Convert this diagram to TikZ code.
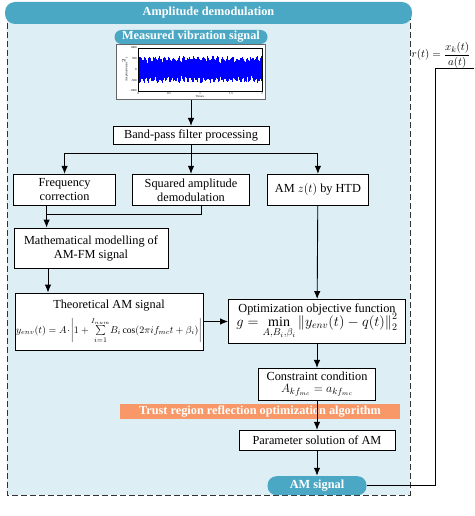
\documentclass[tikz,border=0pt]{standalone}
\usepackage{amsmath}
\usepackage{fontspec}
\setmainfont{Liberation Serif}
\usetikzlibrary{arrows.meta,calc,positioning}
\definecolor{tealhead}{RGB}{75,168,196}
\definecolor{panelbg}{RGB}{221,238,245}
\definecolor{trustbar}{RGB}{248,152,104}

\begin{document}
\begin{tikzpicture}[x=1pt,y=-1pt,>={Latex[length=8pt,width=6.5pt]},line width=0.9pt]
	\tikzset{box/.style={draw, fill=white, shape=rectangle, align=center, inner sep=1pt, font=\fontsize{12.3}{14}\selectfont},
		rblock/.style={fill=tealhead, shape=rectangle, rounded corners=7pt, text=white, align=center, inner sep=1pt, font=\fontsize{12.3}{14}\selectfont\bfseries},
		tick/.style={font=\fontsize{3}{3.5}\selectfont, inner sep=0.4pt}
	}
	\useasboundingbox (0,0) rectangle (474,516);
	% dashed panel and headers
	\draw[dash pattern=on 6pt off 3pt, fill=panelbg, line width=1pt, draw=black!80] (7,14) rectangle (410,495);
	\node [rblock, rounded corners=10pt, minimum width=407pt, minimum height=22pt] (title) at (208.5,13) {Amplitude demodulation};
	\node [rblock, minimum width=153pt, minimum height=14pt] (sighead) at (191,37) {Measured vibration signal};
	\node [draw=black!60, line width=0.5pt, fill=white, minimum width=149pt, minimum height=55pt, below = 0pt of sighead] (plot) {};
	% signal plot
	\pgfmathsetseed{42}
	\foreach \k in {0,...,247} {
		\pgfmathsetmacro{\up}{8+4*rnd+2*sin(\k*37)}
		\pgfmathsetmacro{\dn}{8+4*rnd+2*sin(\k*41)}
		\draw[blue, line width=0.55pt] (138.5+\k*0.5,69.5-\up) -- (138.5+\k*0.5,69.5+\dn);
	}
	\draw[line width=0.3pt] (138,48) rectangle (262,91);
	\foreach \v/\yy [count=\n] in {1000/48,500/58.75,0/69.5,-500/80.25,-1000/91}
		\node [tick, anchor=east] (ylab\n) at (137.5,\yy) {\v};
	\foreach \v/\xx [count=\n] in {0/138,0.5/169,1/200,1.5/231,2/262}
		\node [tick, anchor=north] (xlab\n) at (\xx,91.5) {\v};
	\node [tick] (xname) at (200,97) {Time/s};
	\node [tick, rotate=90] (yname) at (125,69.5) {Amplitude/(m/s$^2$)};
	% boxes
	\node [box, minimum width=156pt, minimum height=18pt, below = 26pt of plot] (band) {Band-pass filter processing};
	\node [box, minimum width=117pt, minimum height=31pt, below = 29pt of band] (sq) {Squared amplitude\\demodulation};
	\node [box, minimum width=102pt, minimum height=31pt, left = 16pt of sq] (freq) {Frequency\\correction};
	\node [box, minimum width=101pt, minimum height=31pt, right = 17pt of sq] (htd) {AM $z(t)$ by HTD};
	\node [box, minimum width=154pt, minimum height=40pt] (math) at (91,248) {Mathematical modelling of\\AM-FM signal};
	\node [box, minimum width=188pt, minimum height=57pt, inner sep=0pt] (theo) at (109,321.5) {Theoretical AM signal\\[6pt]
		{\fontsize{9.6}{11}\selectfont$y_{env}(t)=A\!\cdot\!\left|1+\sum\limits_{i=1}^{I_{num}}\!B_i\cos(2\pi i f_{mc}t+\beta_i)\right|$}};
	\node [box, minimum width=177pt, minimum height=44pt] (opt) at (317,321.5) {Optimization objective function\\[-3pt]
		{\fontsize{14}{15}\selectfont$g=\min\limits_{A,B_i,\beta_i}\left\|y_{env}(t)-q(t)\right\|_2^2$}};
	\node [box, minimum width=117pt, minimum height=32pt, below = 24pt of opt] (cons) {Constraint condition\\[-2pt]
		$A_{kf_{mc}}=a_{kf_{mc}}$};
	\node [fill=trustbar, minimum width=280pt, minimum height=15pt, inner sep=0pt, text=white, font=\fontsize{12.3}{14}\selectfont\bfseries] (trust) at (260,411.5) {Trust region reflection optimization algorithm};
	\node [box, minimum width=156pt, minimum height=20pt, below = 29pt of cons] (param) {Parameter solution of AM};
	\node [rblock, rounded corners=9pt, minimum width=99pt, minimum height=19pt, below = 25pt of param] (amsig) {AM signal};
	\node [font=\fontsize{11}{12}\selectfont] (ratio) at (441,55) {$r(t)=\dfrac{x_k(t)}{a(t)}$};
	\coordinate (rout) at (474,68);
	\coordinate (br) at (191,153);
	% connectors
	\draw[->] (plot) -- (band);
	\draw (band) -- (br);
	\draw[->] (br) -- (sq);
	\draw[->] (br) -| (freq);
	\draw[->] (br) -| (htd);
	\draw[->] ([xshift=-18pt]freq.south) -- ([xshift=-18pt]freq.south |- math.north);
	\draw ([xshift=10pt]sq.south) |- ($([xshift=-18pt]freq.south)!0.4!([xshift=-18pt]freq.south |- math.north)$);
	\draw[->] ([xshift=-43pt]math.south) -- ([xshift=-43pt]math.south |- theo.north);
	\draw[->] (theo) -- (opt);
	\draw[->] (htd) -- (opt);
	\draw[->] (opt) -- (cons);
	\draw[->] (cons) -- (param);
	\draw[->] (param) -- (amsig);
	\draw (amsig.east) -| ($(rout)+(-39,0)$) -- (rout);
\end{tikzpicture}
\end{document}
